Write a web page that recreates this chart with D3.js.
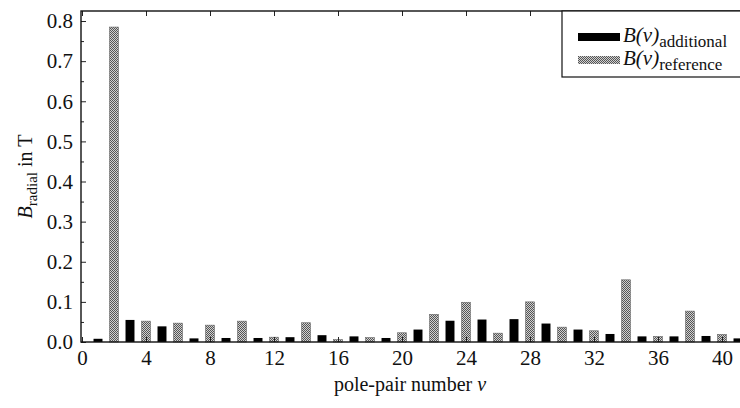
<!DOCTYPE html>
<html lang="en">
<head>
<meta charset="UTF-8">
<title>Radial flux density spectrum</title>
<script src="https://d3js.org/d3.v7.min.js"></script>
<style>
  body { margin: 0; background: #fff; }
  svg text { font-family: "Liberation Serif", "DejaVu Serif", "Times New Roman", serif; fill: #111; }
</style>
</head>
<body>
<svg id="chart" width="740" height="408"></svg>
<script>
// pole-pair numbers and radial flux density (T)
var vAdditional = [1, 3, 5, 7, 9, 11, 13, 15, 17, 19, 21, 23, 25, 27, 29, 31, 33, 35, 37, 39, 41];
var bAdditional = [0.008, 0.055, 0.039, 0.009, 0.010, 0.010, 0.012, 0.017, 0.014, 0.010, 0.031,
                   0.053, 0.056, 0.057, 0.046, 0.031, 0.020, 0.014, 0.014, 0.015, 0.009];
var vReference = [2, 4, 6, 8, 10, 12, 14, 16, 18, 20, 22, 24, 26, 28, 30, 32, 34, 36, 38, 40];
var bReference = [0.785, 0.052, 0.047, 0.042, 0.052, 0.012, 0.048, 0.006, 0.011, 0.023,
                  0.069, 0.099, 0.022, 0.100, 0.037, 0.028, 0.155, 0.014, 0.077, 0.019];
var xTicks = [0, 4, 8, 12, 16, 20, 24, 28, 32, 36, 40];
var yTicks = [0, 0.1, 0.2, 0.3, 0.4, 0.5, 0.6, 0.7, 0.8];

var serif = "'Liberation Serif', 'DejaVu Serif', serif";
var svg = d3.select("#chart").style("font-family", serif);
var plotLeft = 81, plotTop = 11, plotBottom = 342, plotRight = 754;

var x = d3.scaleLinear().domain([0, 42]).range([82, plotRight]);
var y = d3.scaleLinear().domain([0, 0.825]).range([plotBottom, plotTop]);
var halfW = 0.28;

// stippled grey fill like the printed figure
var defs = svg.append("defs");
var pat = defs.append("pattern")
    .attr("id", "stipple")
    .attr("width", 2).attr("height", 2)
    .attr("patternUnits", "userSpaceOnUse");
pat.append("rect").attr("width", 2).attr("height", 2).attr("fill", "#d0d0d0");
pat.append("rect").attr("width", 1).attr("height", 1).attr("fill", "#555");
pat.append("rect").attr("x", 1).attr("y", 1).attr("width", 1).attr("height", 1).attr("fill", "#555");

var addData = vAdditional.map(function(v, i) { return {v: v, b: bAdditional[i]}; });
var refData = vReference.map(function(v, i) { return {v: v, b: bReference[i]}; });

svg.append("g").selectAll("rect.ref")
  .data(refData).enter().append("rect")
    .attr("class", "ref")
    .attr("x", function(d) { return x(d.v - halfW); })
    .attr("width", function(d) { return x(d.v + halfW) - x(d.v - halfW); })
    .attr("y", function(d) { return y(d.b); })
    .attr("height", function(d) { return y(0) - y(d.b); })
    .attr("fill", "url(#stipple)")
    .attr("stroke", "#666")
    .attr("stroke-width", 0.6);

svg.append("g").selectAll("rect.add")
  .data(addData).enter().append("rect")
    .attr("class", "add")
    .attr("x", function(d) { return x(d.v - halfW); })
    .attr("width", function(d) { return x(d.v + halfW) - x(d.v - halfW); })
    .attr("y", function(d) { return y(d.b); })
    .attr("height", function(d) { return y(0) - y(d.b); })
    .attr("fill", "#000");

// axes with inward ticks
svg.append("g")
    .attr("transform", "translate(" + plotLeft + ",0)")
    .call(d3.axisLeft(y).tickValues(yTicks).tickFormat(d3.format(".1f"))
      .tickSizeInner(-5).tickSizeOuter(0).tickPadding(8));
svg.append("g")
    .attr("transform", "translate(" + plotLeft + ",0)")
    .call(d3.axisLeft(y).tickValues(d3.range(0.05, 0.8, 0.1)).tickFormat("")
      .tickSizeInner(-3).tickSizeOuter(0));

svg.append("g")
    .attr("transform", "translate(0," + plotBottom + ")")
    .call(d3.axisBottom(x).tickValues(xTicks).tickSizeInner(-5).tickSizeOuter(0).tickPadding(8));
svg.append("g")
    .attr("transform", "translate(0," + plotTop + ")")
    .call(d3.axisTop(x).tickValues(xTicks).tickFormat("").tickSizeInner(-5).tickSizeOuter(0));

svg.selectAll("g").attr("font-family", serif);
svg.selectAll(".tick text").style("font-size", "21px").style("font-family", serif).attr("fill", "#111");
svg.selectAll(".domain").remove();
svg.selectAll(".tick line").attr("stroke", "#222");

// frame
svg.append("rect")
    .attr("x", plotLeft).attr("y", plotTop)
    .attr("width", plotRight - plotLeft).attr("height", plotBottom - plotTop)
    .attr("fill", "none").attr("stroke", "#111").attr("stroke-width", 1.4);

// axis titles
var yl = svg.append("text")
    .attr("transform", "translate(32," + ((plotTop + plotBottom) / 2) + ") rotate(-90)")
    .attr("text-anchor", "middle")
    .style("font-family", serif)
    .style("font-size", "20px");
yl.append("tspan").style("font-style", "italic").text("B");
yl.append("tspan").attr("dy", 5).style("font-size", "15px").text("radial");
yl.append("tspan").attr("dy", -5).text(" in T");

var xl = svg.append("text")
    .attr("x", 410).attr("y", 391)
    .attr("text-anchor", "middle")
    .style("font-family", serif)
    .style("font-size", "20px");
xl.append("tspan").text("pole-pair number ");
xl.append("tspan").style("font-style", "italic").text("\u03bd");

// legend
var lg = svg.append("g");
lg.append("rect")
    .attr("x", 562).attr("y", plotTop)
    .attr("width", 200).attr("height", 66)
    .attr("fill", "#fff").attr("stroke", "#111").attr("stroke-width", 1.2);

var legendItems = [
  {sub: "additional", fill: "#000", yy: 33},
  {sub: "reference", fill: "url(#stipple)", yy: 56}
];
legendItems.forEach(function(it) {
  lg.append("rect")
      .attr("x", 578).attr("y", it.yy)
      .attr("width", 42).attr("height", 8)
      .attr("fill", it.fill);
  var t = lg.append("text")
      .attr("x", 623).attr("y", it.yy + 9)
      .style("font-family", serif)
      .style("font-size", "21px");
  t.append("tspan").style("font-style", "italic").text("B(\u03bd)");
  t.append("tspan").attr("dy", 5).style("font-size", "17px").text(it.sub);
});
</script>
</body>
</html>
